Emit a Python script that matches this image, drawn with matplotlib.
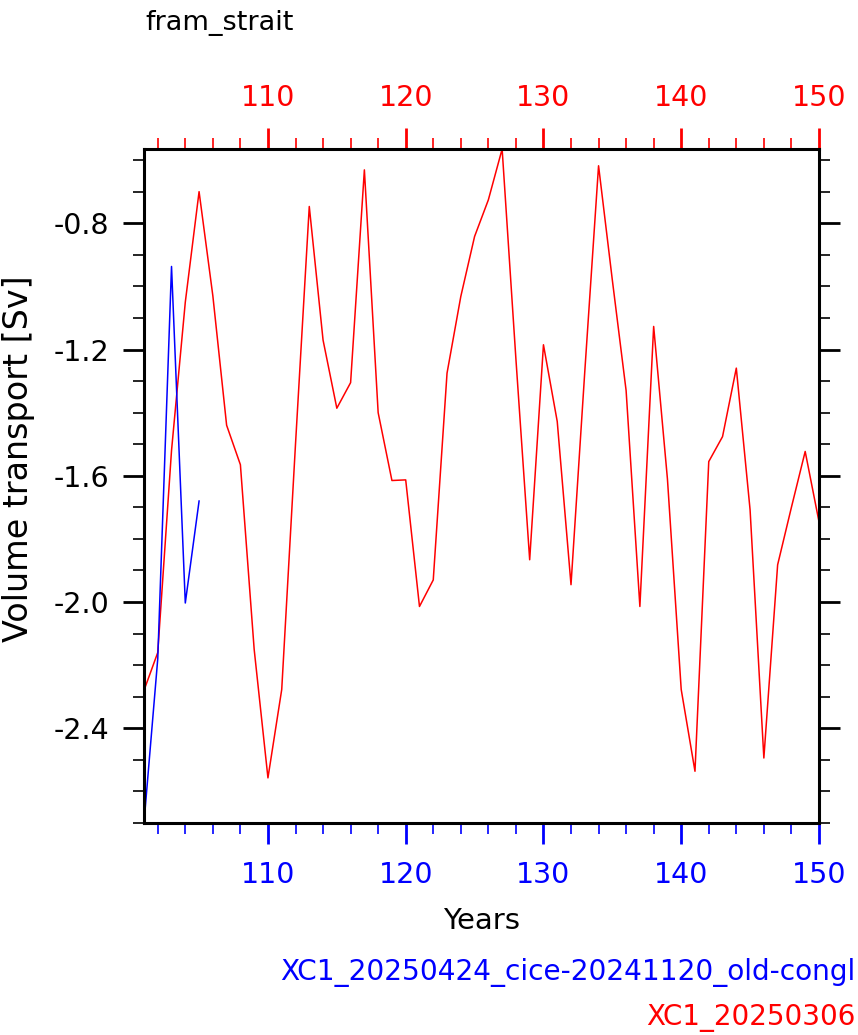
import numpy as np
import matplotlib
matplotlib.use("Agg")
import matplotlib.pyplot as plt
from matplotlib.ticker import MultipleLocator

plt.rcParams['font.family'] = ['DejaVu Sans']

# red run: XC1_20250306, years 101-150
years_red = np.arange(101, 151)
transport_red = [-2.28, -2.16, -1.52, -1.05, -0.70, -1.03, -1.44, -1.565, -2.15, -2.557,
                 -2.277, -1.50, -0.747, -1.17, -1.386, -1.305, -0.631, -1.40, -1.615, -1.613,
                 -2.014, -1.93, -1.275, -1.032, -0.842, -0.726, -0.565, -1.23, -1.866, -1.185,
                 -1.428, -1.945, -1.27, -0.618, -0.98, -1.33, -2.014, -1.127, -1.61, -2.277,
                 -2.536, -1.555, -1.476, -1.259, -1.708, -2.494, -1.882, -1.70, -1.523, -1.745]

# blue run: XC1_20250424_cice-20241120_old-congl, years 101-105
years_blue = np.arange(101, 106)
transport_blue = [-2.70, -2.18, -0.937, -2.003, -1.68]

xticks = [110, 120, 130, 140, 150]
yticks = [-0.8, -1.2, -1.6, -2.0, -2.4]

fig = plt.figure(figsize=(8.58, 10.35), dpi=100)
ax = fig.add_axes([0.1678, 0.2048, 0.7867, 0.6512])

ax.plot(years_red, transport_red, color='red', lw=1.1)
ax.plot(years_blue, transport_blue, color='blue', lw=1.1)

ax.set_xlim(101, 150)
ax.set_ylim(-2.70, -0.565)

fs = 20.5
ax.set_xticks(xticks)
ax.xaxis.set_minor_locator(MultipleLocator(2))
ax.set_yticks(yticks)
ax.set_yticklabels(['%.1f' % v for v in yticks])
ax.yaxis.set_minor_locator(MultipleLocator(0.1))

ax.tick_params(axis='x', which='both', direction='out', colors='blue', labelsize=fs, pad=12)
ax.tick_params(axis='x', which='major', length=15, width=2)
ax.tick_params(axis='x', which='minor', length=8, width=1.2)
ax.tick_params(axis='y', which='both', direction='out', right=True, colors='black', labelsize=fs, pad=10)
ax.tick_params(axis='y', which='major', length=15, width=2)
ax.tick_params(axis='y', which='minor', length=8, width=1.2)

top = ax.secondary_xaxis('top')
top.set_xticks(xticks)
top.xaxis.set_minor_locator(MultipleLocator(2))
top.tick_params(axis='x', which='both', direction='out', colors='red', labelsize=fs, pad=12)
top.tick_params(axis='x', which='major', length=15, width=2)
top.tick_params(axis='x', which='minor', length=8, width=1.2)
top.spines['top'].set_visible(False)

for s in ax.spines.values():
    s.set_linewidth(2.2)
    s.set_color('black')

ax.set_xlabel('Years', fontsize=21, labelpad=13)
ax.set_ylabel('Volume transport [Sv]', fontsize=24)
ax.yaxis.set_label_coords(-0.162, 0.54)

fig.text(0.169, 1 - 30 / 1035, 'fram_strait', fontsize=19.5, va='baseline', ha='left')
fig.text(0.997, 1 - 980 / 1035, 'XC1_20250424_cice-20241120_old-congl', fontsize=20.2,
         color='blue', ha='right', va='baseline')
fig.text(0.997, 1 - 1025 / 1035, 'XC1_20250306', fontsize=20, color='red', ha='right', va='baseline')

fig.savefig('out.png', dpi=100)
